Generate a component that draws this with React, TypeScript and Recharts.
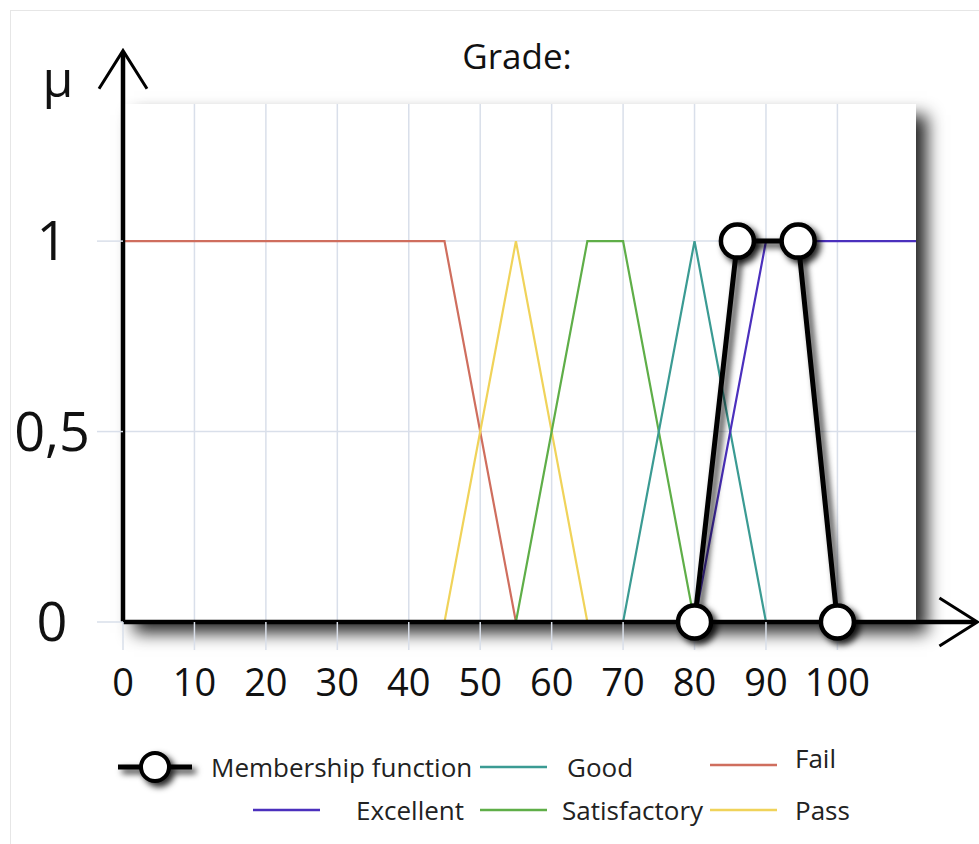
import React from "react";
import {CartesianGrid, Line, LineChart, ReferenceLine, XAxis, YAxis} from "recharts";

// grade axis (x) and membership degree axis (y)
const gradeTicks = [0, 10, 20, 30, 40, 50, 60, 70, 80, 90, 100];
const muTicks = [0, 0.5, 1];
const muTickLabels = ["0", "0,5", "1"];

// membership terms
const failGrade = [0, 45, 55, 111];
const failMu = [1, 1, 0, 0];
const passGrade = [0, 45, 55, 65, 111];
const passMu = [0, 0, 1, 0, 0];
const satisfactoryGrade = [0, 55, 65, 70, 80, 111];
const satisfactoryMu = [0, 0, 1, 1, 0, 0];
const goodGrade = [0, 70, 80, 90, 111];
const goodMu = [0, 0, 1, 0, 0];
const excellentGrade = [0, 80, 90, 111];
const excellentMu = [0, 0, 1, 1];
const membershipGrade = [80, 86, 94.5, 100];
const membershipMu = [0, 1, 1, 0];

const toPoints = (xs: number[], ys: number[]) => xs.map((x, i) => ({grade: x, mu: ys[i]}));

const FONT = "'Open Sans', 'Noto Sans', sans-serif";
const GRID = "#d9dfea";

const W = 979;
const H = 844;
const PLOT = {left: 123, top: 104, right: 916, bottom: 622};

const series = [
    {name: "Fail", color: "#cf6e5e", data: toPoints(failGrade, failMu)},
    {name: "Pass", color: "#f0d35a", data: toPoints(passGrade, passMu)},
    {name: "Satisfactory", color: "#5fae48", data: toPoints(satisfactoryGrade, satisfactoryMu)},
    {name: "Good", color: "#3b9b93", data: toPoints(goodGrade, goodMu)},
    {name: "Excellent", color: "#4b30bd", data: toPoints(excellentGrade, excellentMu)},
];

const colorOf = (name: string) => series.find(s => s.name === name)?.color ?? "#000";

const AxisArrow = (props: any) => {
    const {x1, y1, x2, y2} = props;
    const len = Math.hypot(x2 - x1, y2 - y1) || 1;
    const ux = (x2 - x1) / len;
    const uy = (y2 - y1) / len;
    const hl = 38, hw = 24;
    const bx = x2 - ux * hl, by = y2 - uy * hl;
    return (
        <g>
            <line x1={x1} y1={y1} x2={x2 - ux * 2} y2={y2 - uy * 2} stroke="#000" strokeWidth={4.5}/>
            <polyline
                points={`${bx - uy * hw},${by + ux * hw} ${x2},${y2} ${bx + uy * hw},${by - ux * hw}`}
                fill="none" stroke="#000" strokeWidth={3}/>
        </g>
    );
};

const GradeTick = ({x, y, payload}: any) => (
    <text x={x} y={y} dy={44} textAnchor="middle" fontSize={38} fontFamily={FONT} fill="#111">
        {payload.value}
    </text>
);

const MuTick = ({x, y, payload}: any) => (
    <text x={x - 43} y={y} dy={19} textAnchor="middle" fontSize={54} fontFamily={FONT} fill="#111">
        {muTickLabels[muTicks.indexOf(payload.value)]}
    </text>
);

const MembershipDot = ({cx, cy, index}: any) => (
    <circle key={`md-${index}`} cx={cx} cy={cy} r={16.5} fill="#fff" stroke="#000" strokeWidth={4.5}
            filter="url(#mfShadow)"/>
);

// legend layout (page pixels)
const legendRows = [
    {name: "Membership function", icon: 118, text: 211, y: 767},
    {name: "Good", icon: 480, text: 567, y: 767},
    {name: "Fail", icon: 710, text: 795, y: 765, textY: 758},
    {name: "Excellent", icon: 253, text: 356, y: 810},
    {name: "Satisfactory", icon: 480, text: 562, y: 810},
    {name: "Pass", icon: 710, text: 795, y: 810},
];

function Overlay() {
    return (
        <svg width={W} height={H} style={{position: "absolute", left: 0, top: 0, pointerEvents: "none"}}>
            <text x={517} y={69} textAnchor="middle" fontSize={35} fontFamily={FONT} fill="#111">Grade:</text>
            <text x={58} y={97} textAnchor="middle" fontSize={50} fontFamily={FONT} fill="#111">μ</text>
            {legendRows.map(r => {
                const isMf = r.name === "Membership function";
                return (
                    <g key={r.name}>
                        {isMf ? (
                            <g filter="url(#mfShadow)">
                                <line x1={r.icon} y1={r.y} x2={r.icon + 74} y2={r.y} stroke="#000" strokeWidth={5}/>
                                <circle cx={r.icon + 37} cy={r.y} r={14} fill="#fff" stroke="#000" strokeWidth={4}/>
                            </g>
                        ) : (
                            <line x1={r.icon} y1={r.y} x2={r.icon + 67} y2={r.y} stroke={colorOf(r.name)}
                                  strokeWidth={2.5}/>
                        )}
                        <text x={r.text} y={r.textY ?? r.y} dy={10} fontSize={26} fontFamily={FONT} fill="#222">
                            {r.name}
                        </text>
                    </g>
                );
            })}
        </svg>
    );
}

export default function App() {
    return (
        <div style={{position: "absolute", left: 0, top: 0, width: W, height: H, background: "#fff", overflow: "hidden"}}>
            <div style={{
                position: "absolute", left: 10, top: 10, width: W - 10, height: H - 10,
                borderTop: "1px solid #e6e6e6", borderLeft: "1px solid #e6e6e6"
            }}/>
            <svg width={0} height={0} style={{position: "absolute"}}>
                <defs>
                    <filter id="mfShadow" x="-60%" y="-60%" width="220%" height="220%">
                        <feDropShadow dx={4} dy={4} stdDeviation={3} floodColor="#000" floodOpacity={0.85}/>
                    </filter>
                </defs>
            </svg>
            {/* plot area background with its drop shadow */}
            <div style={{
                position: "absolute", left: PLOT.left, top: PLOT.top,
                width: PLOT.right - PLOT.left, height: PLOT.bottom - PLOT.top,
                background: "#fff", boxShadow: "11px 11px 16px rgba(0,0,0,0.85)"
            }}/>
            <div style={{position: "absolute", left: 0, top: 0}}>
                <LineChart width={W} height={H}
                           margin={{top: PLOT.top, right: W - PLOT.right, left: 0, bottom: H - PLOT.bottom - 60}}>
                    <CartesianGrid stroke={GRID} strokeWidth={1.5} horizontalValues={muTicks}
                                   verticalValues={gradeTicks}/>
                    <XAxis type="number" dataKey="grade" domain={[0, 111]} ticks={gradeTicks} height={60}
                           axisLine={false} tickSize={28} tickLine={{stroke: GRID, strokeWidth: 1.5}}
                           tick={<GradeTick/>} allowDuplicatedCategory={false}/>
                    <YAxis type="number" dataKey="mu" domain={[0, 1.36]} ticks={muTicks} width={PLOT.left}
                           axisLine={false} tickSize={26} tickLine={{stroke: GRID, strokeWidth: 1.5}}
                           tick={<MuTick/>}/>
                    {series.map(s => (
                        <Line key={s.name} data={s.data} dataKey="mu" name={s.name} type="linear"
                              stroke={s.color} strokeWidth={2.2} dot={false} isAnimationActive={false}/>
                    ))}
                    <Line data={toPoints(membershipGrade, membershipMu)} dataKey="mu" name="Membership function"
                          type="linear" stroke="#000" strokeWidth={5} filter="url(#mfShadow)"
                          dot={<MembershipDot/>} isAnimationActive={false}/>
                    <ReferenceLine segment={[{x: 0, y: 0}, {x: 0, y: 1.5}]} ifOverflow="visible"
                                   shape={<AxisArrow/>}/>
                    <ReferenceLine segment={[{x: 0, y: 0}, {x: 119.6, y: 0}]} ifOverflow="visible"
                                   shape={<AxisArrow/>}/>
                </LineChart>
            </div>
            <Overlay/>
        </div>
    );
}
